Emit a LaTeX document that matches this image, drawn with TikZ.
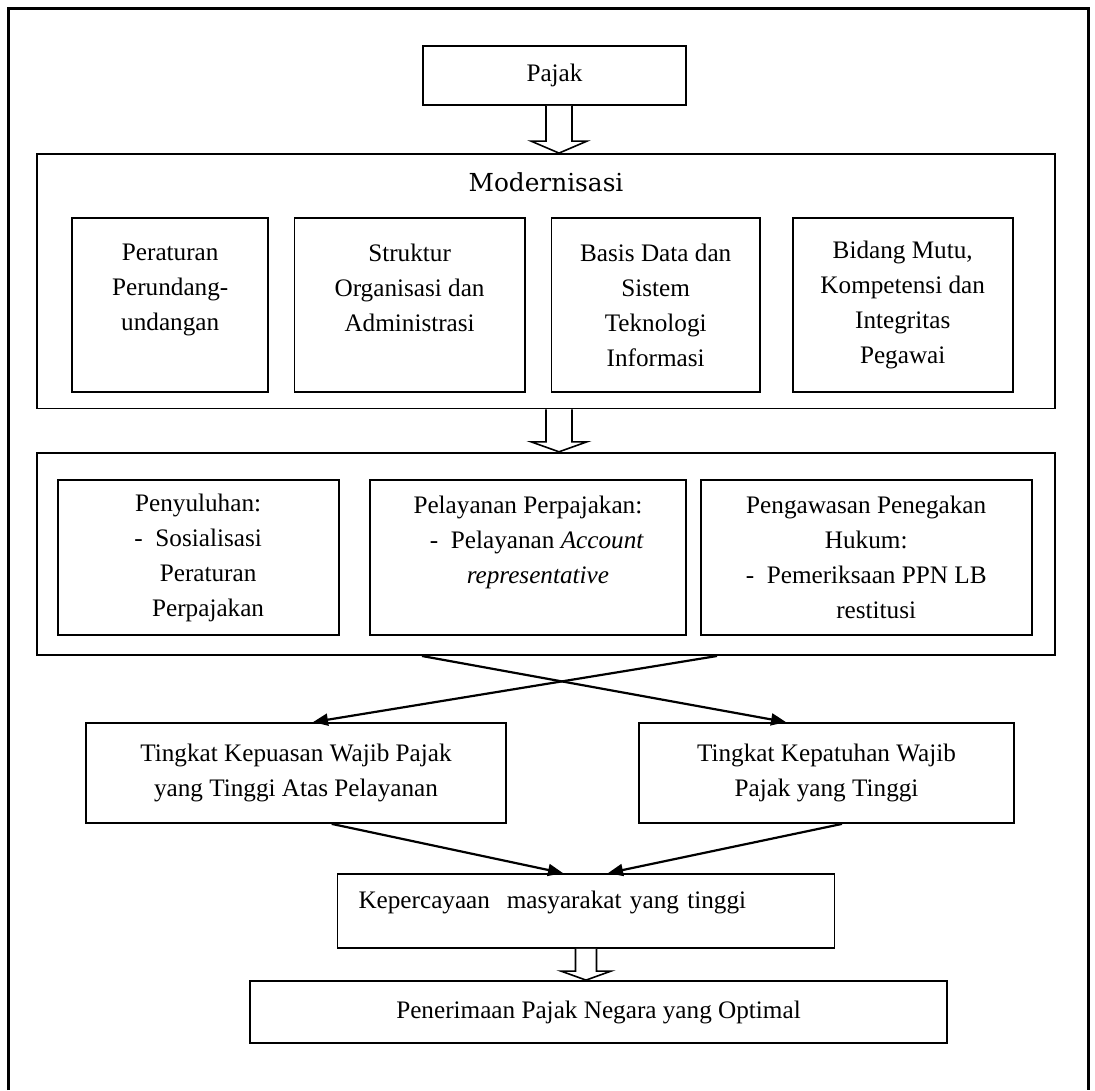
\documentclass[tikz,border=0pt]{standalone}
\usepackage{fontspec}
\setmainfont{Liberation Serif}
\newfontfamily\titlefont{DejaVu Serif}
\usetikzlibrary{calc,arrows.meta}

% hollow block arrow: from node, to node, x, stem half-width, head half-width, head length
\newcommand{\fatarrow}[6]{%
  \coordinate (fa) at (#3,0);
  \draw[fatline] ($(#1.south -| fa)+(-#4,0)$) -- ($(#2.north -| fa)+(-#4,-#6)$) -- ($(#2.north -| fa)+(-#5,-#6)$) -- (#2.north -| fa) -- ($(#2.north -| fa)+(#5,-#6)$) -- ($(#2.north -| fa)+(#4,-#6)$) -- ($(#1.south -| fa)+(#4,0)$);}

\begin{document}
\begin{tikzpicture}[x=0.5pt, y=-0.5pt,
  every node/.style={font=\fontsize{12.6}{17.5}\selectfont},
  box/.style={draw, line width=0.9pt, align=center, inner sep=0pt},
  wire/.style={line width=1.1pt, -{Triangle[length=7.5pt,width=6pt]}},
  fatline/.style={draw, line width=0.8pt, fill=white},
  frame/.style={line width=1.5pt}]
  \useasboundingbox (0,0) rectangle (1095,1090);
  \draw[frame] (8,1090) |- (1088,9) -- (1088,1090);

  % top
  \node[box, minimum width=131.5pt, minimum height=29.5pt] (pajak) at (554.5,75.5) {Pajak};

  % modernisasi
  \node[box, minimum width=509pt, minimum height=127.2pt] (modern) at (546,281.2) {};
  \node[anchor=base, font=\titlefont\fontsize{12.4}{15}\selectfont] (modtitle) at (546,191.7) {Modernisasi};
  \node[box, minimum width=98pt, minimum height=86.7pt] (atur) at (170.2,305) {Peraturan\\Perundang-\\undangan\\\mbox{}};
  \node[box, minimum width=115.2pt, minimum height=86.7pt] (struktur) at (409.6,305) {Struktur\\Organisasi dan\\Administrasi\\\mbox{}};
  \node[box, minimum width=104.3pt, minimum height=86.7pt] (basis) at (655.7,305) {Basis Data dan\\Sistem\\Teknologi\\Informasi};
  \node[box, minimum width=110pt, minimum height=86.7pt] (mutu) at (902.7,305) {Bidang Mutu,\\Kompetensi dan\\Integritas\\Pegawai};

  % layanan
  \node[box, minimum width=509pt, minimum height=101.2pt] (layan) at (546,553.9) {};
  \node[box, minimum width=140.5pt, minimum height=77.5pt] (suluh) at (198.1,557.5) {Penyuluhan:\\-\ \ Sosialisasi\\\hspace*{10pt}Peraturan\\\hspace*{10pt}Perpajakan};
  \node[box, minimum width=158.2pt, minimum height=77.5pt] (pelayanan) at (527.9,557.5) {Pelayanan Perpajakan:\\\hspace*{9pt}-\ \ Pelayanan \textit{Account}\\\hspace*{10pt}\textit{representative}\\\mbox{}};
  \node[box, minimum width=165.5pt, minimum height=77.5pt] (awas) at (866.2,557.5) {Pengawasan Penegakan\\Hukum:\\-\ \ Pemeriksaan PPN LB\\\hspace*{10pt}restitusi};

  % hasil
  \node[box, minimum width=210pt, minimum height=50pt] (puas) at (296,773) {Tingkat Kepuasan Wajib Pajak\\yang Tinggi Atas Pelayanan};
  \node[box, minimum width=187.5pt, minimum height=50pt] (patuh) at (826.5,773) {Tingkat Kepatuhan Wajib\\Pajak yang Tinggi};
  \node[box, minimum height=37pt, text width=227.5pt, align=left, inner xsep=10.5pt, text height=8.5pt, text depth=11.5pt] (percaya) at (586,911) {Kepercayaan\ \ masyarakat yang tinggi};
  \node[box, minimum width=348.5pt, minimum height=31pt] (terima) at (598.5,1012) {Penerimaan Pajak Negara yang Optimal};

  % arrows
  \fatarrow{pajak}{modern}{559}{13}{28}{12}
  \fatarrow{modern}{layan}{559}{13}{28}{10}
  \draw[wire] ($(layan.south)+(-124,0)$) -- ($(patuh.north)+(-40.5,0)$);
  \draw[wire] ($(layan.south)+(171,0)$) -- ($(puas.north)+(17,0)$);
  \draw[wire] ($(puas.south)+(35.7,0)$) -- ($(percaya.north)+(-23,0)$);
  \draw[wire] ($(patuh.south)+(15.5,0)$) -- ($(percaya.north)+(22,0)$);
  \fatarrow{percaya}{terima}{586}{10.5}{25}{9}
\end{tikzpicture}
\end{document}
